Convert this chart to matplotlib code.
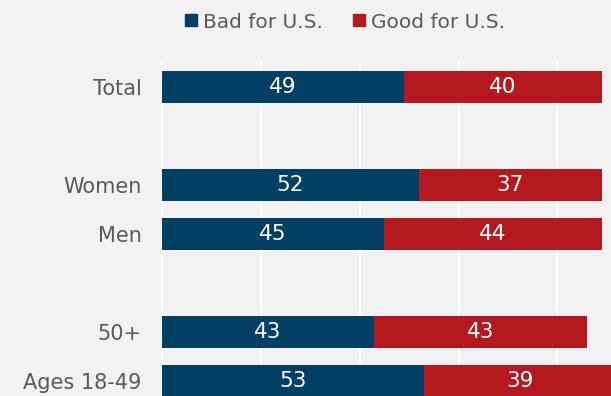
import numpy as np
import matplotlib.pyplot as plt
from matplotlib.lines import Line2D

plt.rcParams['font.family'] = ['DejaVu Sans']

categories = ['Total', '', 'Women', 'Men', '', '50+', 'Ages 18-49']
bad = [49, None, 52, 45, None, 43, 53]
good = [40, None, 37, 44, None, 43, 39]
series_names = ['Bad for U.S.', 'Good for U.S.']
xticks = [0, 20, 40, 60, 80]

blue = '#023f64'
red = '#b3191f'
bg = '#f2f2f2'
label_color = '#5a5a5a'

fig = plt.figure(figsize=(6.11, 3.96), dpi=100, facecolor=bg)
ax = fig.add_axes([161 / 611, 0, 450 / 611, 334 / 396], facecolor=bg)

ypos = np.arange(len(categories))
for y, b, g in zip(ypos, bad, good):
    if b is None:
        continue
    ax.barh(y, b, height=0.67, color=blue, zorder=2)
    ax.barh(y, g, left=b, height=0.67, color=red, zorder=2)
    ax.text(b / 2, y, str(b), color='white', ha='center', va='center',
            fontsize=15.5, zorder=3)
    ax.text(b + g / 2, y, str(g), color='white', ha='center', va='center',
            fontsize=15.5, zorder=3)

ax.set_xticks(xticks)
ax.set_xlim(-0.15, 450 / 4.955)
ax.set_ylim(6.306, -0.51)
ax.xaxis.grid(True, color='white', linewidth=1.5, zorder=1)
ax.set_axisbelow(True)
ax.tick_params(axis='x', length=0, labelbottom=False)
ax.set_yticks(ypos)
ax.set_yticklabels(categories, fontsize=15, color=label_color)
ax.tick_params(axis='y', length=0, pad=14)
for s in ax.spines.values():
    s.set_visible(False)

handles = [Line2D([], [], marker='s', linestyle='none', markersize=9, color=c)
           for c in (blue, red)]
fig.legend(handles, series_names, loc='center', bbox_to_anchor=(343 / 611, 1 - 22 / 396),
           ncol=2, frameon=False, fontsize=14.5, labelcolor=label_color,
           handletextpad=0.1, columnspacing=1.3, handlelength=1.0)

fig.savefig('out.png', dpi=100, facecolor=bg)
